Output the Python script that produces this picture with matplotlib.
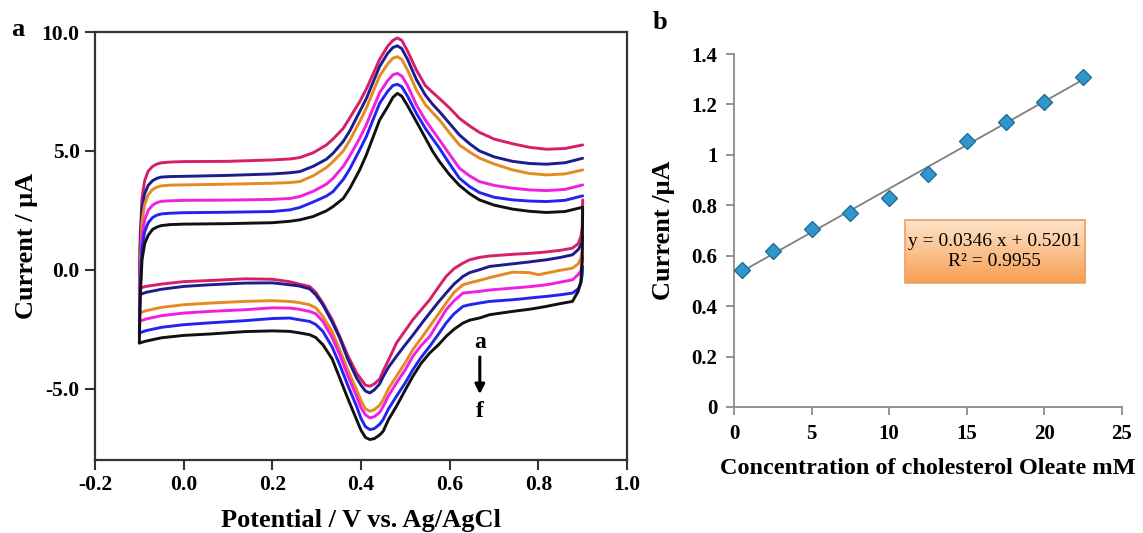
import numpy as np
import matplotlib
matplotlib.use("Agg")
import matplotlib.pyplot as plt
from matplotlib.ticker import FormatStrFormatter, FixedLocator
from matplotlib.patches import Rectangle

plt.rcParams['font.family'] = ['Liberation Serif', 'DejaVu Serif']
plt.rcParams['axes.unicode_minus'] = False

# ---------------- Panel a: cyclic voltammograms ----------------
curve_labels = ['a', 'b', 'c', 'd', 'e', 'f']
curve_colors = ['#D81E6A', '#1C1C8E', '#E58A22', '#F21FE0', '#2424F0', '#111111']

# forward (anodic) scan potentials, V
E_fwd = [-0.1, -0.098, -0.094, -0.088, -0.08, -0.07, -0.06, -0.05, -0.03, 0.0,
         0.1, 0.2, 0.24, 0.262, 0.292, 0.322, 0.337, 0.36, 0.375, 0.397,
         0.412, 0.442, 0.46, 0.472, 0.482, 0.492, 0.505, 0.525, 0.545, 0.562,
         0.577, 0.6, 0.622, 0.645, 0.667, 0.7, 0.742, 0.78, 0.818, 0.86, 0.9]
I_fwd_a = [-0.77, 1.5, 3.0, 3.75, 4.15, 4.35, 4.45, 4.5, 4.53, 4.55,
           4.56, 4.62, 4.66, 4.72, 4.92, 5.25, 5.5, 5.95, 6.4, 7.07,
           7.6, 8.85, 9.4, 9.65, 9.75, 9.65, 9.2, 8.4, 7.75, 7.45,
           7.2, 6.8, 6.37, 6.05, 5.78, 5.5, 5.3, 5.15, 5.07, 5.1, 5.25]
I_fwd_b = [-1.05, 1.0, 2.6, 3.2, 3.55, 3.75, 3.85, 3.9, 3.92, 3.93,
           3.97, 4.03, 4.08, 4.13, 4.35, 4.65, 4.9, 5.4, 5.85, 6.65,
           7.2, 8.55, 9.1, 9.35, 9.42, 9.3, 8.85, 8.0, 7.35, 6.95,
           6.65, 6.15, 5.67, 5.3, 5.0, 4.75, 4.56, 4.47, 4.44, 4.5, 4.69]
I_fwd_c = [-1.82, 0.2, 2.0, 2.75, 3.15, 3.38, 3.48, 3.53, 3.56, 3.57,
           3.6, 3.64, 3.67, 3.71, 3.95, 4.3, 4.55, 5.0, 5.45, 6.23,
           6.8, 8.15, 8.65, 8.9, 8.96, 8.85, 8.4, 7.56, 6.95, 6.6,
           6.3, 5.75, 5.25, 4.95, 4.7, 4.45, 4.2, 4.05, 3.99, 4.03, 4.2]
I_fwd_d = [-2.17, -0.3, 1.4, 2.1, 2.5, 2.72, 2.83, 2.88, 2.9, 2.92,
           2.93, 2.96, 3.0, 3.08, 3.3, 3.6, 3.85, 4.35, 4.8, 5.53,
           6.1, 7.45, 7.95, 8.2, 8.26, 8.15, 7.75, 6.93, 6.3, 5.85,
           5.46, 4.85, 4.27, 3.95, 3.71, 3.55, 3.43, 3.36, 3.33, 3.38, 3.57]
I_fwd_e = [-2.66, -0.8, 0.9, 1.6, 1.98, 2.2, 2.3, 2.35, 2.38, 2.4,
           2.42, 2.45, 2.52, 2.62, 2.85, 3.1, 3.29, 3.8, 4.25, 5.04,
           5.6, 7.0, 7.5, 7.75, 7.8, 7.7, 7.3, 6.58, 5.95, 5.5,
           5.11, 4.45, 3.85, 3.5, 3.25, 3.05, 2.94, 2.89, 2.87, 2.92, 3.11]
I_fwd_f = [-3.08, -1.2, 0.4, 1.1, 1.45, 1.7, 1.8, 1.86, 1.9, 1.92,
           1.94, 1.98, 2.04, 2.1, 2.24, 2.48, 2.66, 3.0, 3.43, 4.2,
           4.83, 6.3, 6.85, 7.25, 7.42, 7.3, 6.9, 6.23, 5.55, 4.97,
           4.55, 3.99, 3.55, 3.2, 2.94, 2.72, 2.55, 2.46, 2.41, 2.45, 2.63]

# reverse (cathodic) scan potentials, V
E_rev = [0.9, 0.899, 0.896, 0.89, 0.877, 0.85, 0.818, 0.8, 0.78, 0.742,
         0.69, 0.667, 0.645, 0.63, 0.61, 0.592, 0.575, 0.555, 0.535, 0.517,
         0.5, 0.48, 0.462, 0.45, 0.442, 0.43, 0.42, 0.41, 0.4, 0.39,
         0.37, 0.352, 0.335, 0.314, 0.298, 0.284, 0.26, 0.239, 0.2, 0.138,
         0.06, 0.0, -0.05, -0.085, -0.1]
I_rev_a = [2.94, 1.8, 1.4, 1.1, 0.91, 0.82, 0.75, 0.72, 0.69, 0.65,
           0.58, 0.52, 0.42, 0.28, 0.05, -0.28, -0.72, -1.26, -1.7, -2.1,
           -2.55, -3.08, -3.8, -4.25, -4.6, -4.8, -4.9, -4.85, -4.6, -4.34,
           -3.6, -2.8, -2.1, -1.4, -0.95, -0.7, -0.6, -0.5, -0.4, -0.38,
           -0.45, -0.5, -0.6, -0.7, -0.77]
I_rev_b = [1.4, 1.2, 1.05, 0.85, 0.63, 0.52, 0.42, 0.38, 0.33, 0.25,
           0.14, 0.0, -0.12, -0.28, -0.6, -0.98, -1.35, -1.82, -2.3, -2.75,
           -3.15, -3.64, -4.1, -4.5, -4.8, -5.05, -5.18, -5.1, -4.85, -4.55,
           -3.75, -2.87, -2.2, -1.47, -1.05, -0.8, -0.68, -0.63, -0.55, -0.56,
           -0.63, -0.7, -0.82, -0.95, -1.05]
I_rev_c = [1.12, 0.8, 0.49, 0.25, 0.07, -0.02, -0.14, -0.21, -0.12, -0.1,
           -0.33, -0.45, -0.55, -0.63, -0.95, -1.4, -1.85, -2.38, -2.9, -3.36,
           -3.9, -4.48, -5.0, -5.46, -5.7, -5.88, -5.95, -5.85, -5.5, -5.04,
           -4.2, -3.36, -2.6, -1.96, -1.6, -1.47, -1.38, -1.33, -1.3, -1.33,
           -1.4, -1.47, -1.58, -1.72, -1.82]
I_rev_d = [0.56, 0.3, -0.05, -0.2, -0.42, -0.52, -0.63, -0.67, -0.71, -0.77,
           -0.85, -0.91, -0.95, -0.98, -1.3, -1.68, -2.2, -2.8, -3.2, -3.64,
           -4.2, -4.76, -5.3, -5.75, -6.0, -6.18, -6.23, -6.1, -5.8, -5.32,
           -4.45, -3.57, -2.85, -2.17, -1.85, -1.75, -1.66, -1.61, -1.6, -1.68,
           -1.75, -1.82, -1.93, -2.07, -2.17]
I_rev_e = [0.14, -0.2, -0.56, -0.8, -0.98, -1.05, -1.12, -1.15, -1.19, -1.26,
           -1.33, -1.4, -1.47, -1.54, -1.85, -2.24, -2.7, -3.22, -3.7, -4.2,
           -4.75, -5.32, -5.85, -6.3, -6.5, -6.68, -6.72, -6.6, -6.25, -5.74,
           -4.85, -3.99, -3.25, -2.59, -2.3, -2.17, -2.1, -2.03, -2.05, -2.14,
           -2.23, -2.31, -2.42, -2.56, -2.66]
I_rev_f = [2.63, 0.5, -0.5, -0.9, -1.33, -1.42, -1.54, -1.6, -1.66, -1.75,
           -1.89, -2.03, -2.12, -2.24, -2.5, -2.8, -3.15, -3.5, -3.95, -4.48,
           -5.05, -5.74, -6.3, -6.79, -6.95, -7.1, -7.14, -7.05, -6.75, -6.3,
           -5.4, -4.55, -3.75, -3.15, -2.85, -2.73, -2.65, -2.59, -2.57, -2.6,
           -2.7, -2.76, -2.86, -3.0, -3.08]

I_fwd = [I_fwd_a, I_fwd_b, I_fwd_c, I_fwd_d, I_fwd_e, I_fwd_f]
I_rev = [I_rev_a, I_rev_b, I_rev_c, I_rev_d, I_rev_e, I_rev_f]

cv_xticks = [-0.2, 0.0, 0.2, 0.4, 0.6, 0.8, 1.0]
cv_yticks = [-5.0, 0.0, 5.0, 10.0]

# ---------------- Panel b: calibration ----------------
conc = [0.5, 2.5, 5, 7.5, 10, 12.5, 15, 17.5, 20, 22.5]
peak_current = [0.545, 0.62, 0.705, 0.77, 0.83, 0.925, 1.055, 1.13, 1.21, 1.31]
fit_slope = 0.0346
fit_intercept = 0.5201
fit_text = "y = 0.0346 x + 0.5201\nR² = 0.9955"
cal_xticks = [0, 5, 10, 15, 20, 25]
cal_yticks = [0, 0.2, 0.4, 0.6, 0.8, 1.0, 1.2, 1.4]
cal_yticklabels = ['0', '0.2', '0.4', '0.6', '0.8', '1', '1.2', '1.4']

W, H = 1143, 533
fig = plt.figure(figsize=(W / 100, H / 100), dpi=100)

# ---- panel a ----
axa = fig.add_axes([95 / W, 1 - 460 / H, 532 / W, 428 / H])
for i in range(len(curve_labels)):
    axa.plot(E_fwd, I_fwd[i], color=curve_colors[i], lw=2.1,
             solid_joinstyle='round', solid_capstyle='round')
    axa.plot(E_rev, I_rev[i], color=curve_colors[i], lw=2.1,
             solid_joinstyle='round', solid_capstyle='round')
axa.set_xlim(-0.2, 1.0)
axa.set_ylim(-8.0, 10.0)
axa.xaxis.set_major_locator(FixedLocator(cv_xticks))
axa.yaxis.set_major_locator(FixedLocator(cv_yticks))
axa.xaxis.set_major_formatter(FormatStrFormatter('%.1f'))
axa.yaxis.set_major_formatter(FormatStrFormatter('%.1f'))
for s in axa.spines.values():
    s.set_linewidth(1.6)
    s.set_color('#333333')
axa.tick_params(direction='out', length=7, width=1.5, color='#333333', labelsize=15.5, pad=4)
for lab in axa.get_xticklabels() + axa.get_yticklabels():
    lab.set_fontweight('bold')
axa.set_xlabel('Potential / V vs. Ag/AgCl', fontsize=19, fontweight='bold', labelpad=10)
axa.set_ylabel('Current / μA', fontsize=19, fontweight='bold', labelpad=3)
axa.annotate('', xy=(0.668, -5.35), xytext=(0.668, -3.55),
             arrowprops=dict(arrowstyle='-|>', color='black', lw=2.2, mutation_scale=14))
axa.text(0.668, -3.05, curve_labels[0], ha='center', va='center', fontsize=17, fontweight='bold')
axa.text(0.668, -5.95, curve_labels[-1], ha='center', va='center', fontsize=17, fontweight='bold')
fig.text(18 / W, 1 - 30 / H, 'a', ha='center', va='center', fontsize=19, fontweight='bold')

# ---- panel b ----
axb = fig.add_axes([734 / W, 1 - 407 / H, 388 / W, 353 / H])
xs = np.array([conc[0], conc[-1]])
axb.plot(xs, fit_slope * xs + fit_intercept, color='#7f7f7f', lw=1.3, zorder=2)
axb.plot(conc, peak_current, linestyle='none', marker='D', markersize=8.5,
         markerfacecolor='#2F97CC', markeredgecolor='#1F6F9A', markeredgewidth=1.0, zorder=3)
axb.set_xlim(0, 25)
axb.set_ylim(0, 1.4)
axb.xaxis.set_major_locator(FixedLocator(cal_xticks))
axb.yaxis.set_major_locator(FixedLocator(cal_yticks))
axb.set_yticklabels(cal_yticklabels)
axb.spines['top'].set_visible(False)
axb.spines['right'].set_visible(False)
for s in ('left', 'bottom'):
    axb.spines[s].set_color('#8a8a8a')
    axb.spines[s].set_linewidth(1.3)
axb.tick_params(direction='out', length=6, width=1.3, color='#8a8a8a', labelsize=15, pad=6)
for lab in axb.get_xticklabels() + axb.get_yticklabels():
    lab.set_fontweight('bold')
axb.set_xlabel('Concentration of cholesterol Oleate mM', fontsize=17.5, fontweight='bold', labelpad=10)
axb.set_ylabel('Current /μA', fontsize=19, fontweight='bold', labelpad=12)

# gradient equation box
bx0, bx1, by0, by1 = 11.0, 22.6, 0.49, 0.742
grad = np.linspace(0, 1, 64).reshape(-1, 1)
top_c = np.array([1.0, 0.90, 0.80])
bot_c = np.array([0.97, 0.62, 0.33])
img = top_c[None, None, :] * (1 - grad[:, :, None]) + bot_c[None, None, :] * grad[:, :, None]
axb.imshow(img, extent=[bx0, bx1, by0, by1], origin='upper', aspect='auto', zorder=4)
axb.add_patch(Rectangle((bx0, by0), bx1 - bx0, by1 - by0, fill=False,
                        edgecolor='#E9A066', lw=1.2, zorder=5))
axb.text((bx0 + bx1) / 2, (by0 + by1) / 2, fit_text, ha='center', va='center',
         fontsize=14, linespacing=1.2, zorder=6)
axb.set_xlim(0, 25)
axb.set_ylim(0, 1.4)
fig.text(660 / W, 1 - 22 / H, 'b', ha='center', va='center', fontsize=19, fontweight='bold')

fig.savefig('out.png', dpi=100)
